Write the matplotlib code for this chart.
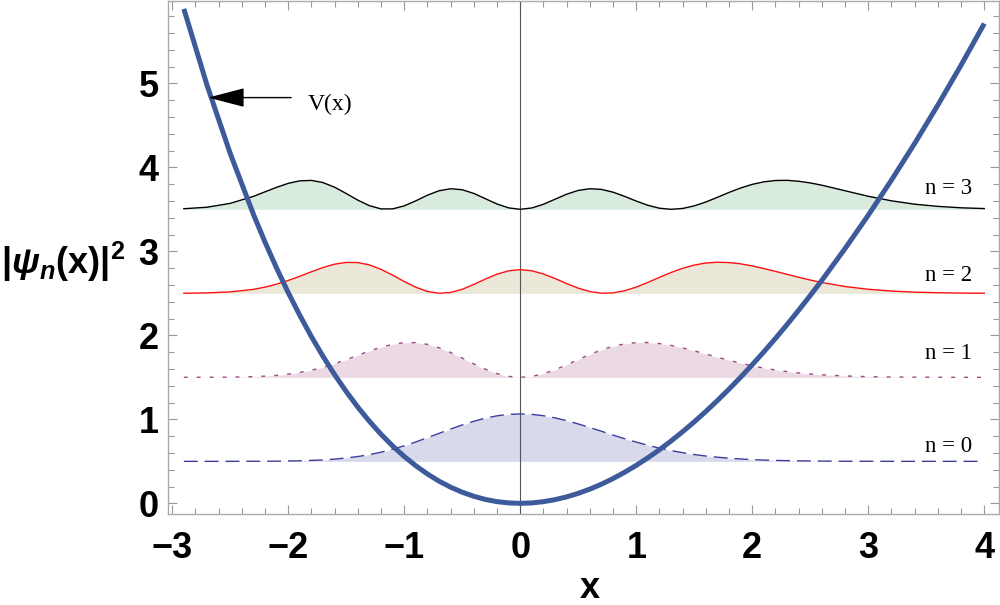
import matplotlib
matplotlib.use('Agg')
import matplotlib.pyplot as plt
from matplotlib.ticker import MultipleLocator
import numpy as np

# values
x_grid = [-2.9, -2.7, -2.5, -2.3, -2.2, -2.1, -2.0, -1.9, -1.8, -1.7, -1.6, -1.5,
          -1.4, -1.3, -1.2, -1.1, -1.0, -0.9, -0.8, -0.7, -0.6, -0.5, -0.4, -0.3,
          -0.2, -0.1, 0.0, 0.1, 0.2, 0.3, 0.4, 0.5, 0.6, 0.7, 0.8, 0.9, 1.0, 1.1,
          1.2, 1.3, 1.4, 1.5, 1.6, 1.7, 1.8, 1.9, 2.0, 2.1, 2.2, 2.3, 2.4, 2.5,
          2.6, 2.8, 3.0, 3.2, 3.4, 3.6, 3.8, 4.0]

potential = [5.886, 4.977, 4.164, 3.440, 3.109, 2.799, 2.508, 2.237, 1.984, 1.749,
             1.531, 1.330, 1.145, 0.976, 0.822, 0.683, 0.558, 0.447, 0.349, 0.264,
             0.192, 0.132, 0.084, 0.046, 0.020, 0.005, 0.000, 0.005, 0.020, 0.044,
             0.077, 0.119, 0.169, 0.228, 0.295, 0.370, 0.452, 0.542, 0.638, 0.742,
             0.853, 0.970, 1.094, 1.224, 1.360, 1.502, 1.650, 1.804, 1.963, 2.128,
             2.299, 2.474, 2.655, 3.033, 3.430, 3.848, 4.284, 4.741, 5.216, 5.711]

psi0_sq = [0.000, 0.000, 0.000, 0.001, 0.001, 0.002, 0.004, 0.006, 0.011, 0.017,
           0.026, 0.040, 0.057, 0.080, 0.109, 0.144, 0.185, 0.231, 0.281, 0.333,
           0.384, 0.433, 0.477, 0.514, 0.542, 0.559, 0.564, 0.559, 0.543, 0.517,
           0.484, 0.445, 0.402, 0.358, 0.313, 0.269, 0.229, 0.191, 0.157, 0.128,
           0.103, 0.081, 0.063, 0.049, 0.037, 0.028, 0.021, 0.015, 0.011, 0.008,
           0.006, 0.004, 0.003, 0.001, 0.001, 0.000, 0.000, 0.000, 0.000, 0.000]

psi1_sq = [0.000, 0.001, 0.002, 0.008, 0.014, 0.023, 0.038, 0.058, 0.085, 0.119,
           0.162, 0.210, 0.262, 0.313, 0.358, 0.393, 0.413, 0.413, 0.392, 0.352,
           0.295, 0.229, 0.159, 0.096, 0.044, 0.011, 0.000, 0.011, 0.043, 0.090,
           0.149, 0.211, 0.272, 0.326, 0.369, 0.398, 0.413, 0.414, 0.402, 0.380,
           0.350, 0.315, 0.277, 0.239, 0.202, 0.168, 0.137, 0.110, 0.087, 0.068,
           0.052, 0.040, 0.030, 0.016, 0.008, 0.004, 0.002, 0.001, 0.000, 0.000]

psi2_sq = [0.001, 0.005, 0.017, 0.047, 0.074, 0.109, 0.153, 0.203, 0.257, 0.307,
           0.347, 0.368, 0.366, 0.338, 0.285, 0.216, 0.140, 0.072, 0.022, 0.001,
           0.010, 0.048, 0.106, 0.170, 0.228, 0.268, 0.282, 0.268, 0.230, 0.176,
           0.116, 0.061, 0.021, 0.001, 0.005, 0.031, 0.074, 0.130, 0.190, 0.248,
           0.298, 0.336, 0.361, 0.370, 0.366, 0.351, 0.326, 0.295, 0.261, 0.226,
           0.191, 0.158, 0.129, 0.081, 0.048, 0.027, 0.014, 0.007, 0.003, 0.001]

psi3_sq = [0.007, 0.025, 0.071, 0.154, 0.208, 0.262, 0.309, 0.339, 0.344, 0.318,
           0.263, 0.188, 0.109, 0.043, 0.005, 0.005, 0.041, 0.101, 0.168, 0.221,
           0.245, 0.233, 0.189, 0.126, 0.063, 0.017, 0.000, 0.016, 0.060, 0.120,
           0.180, 0.225, 0.245, 0.237, 0.204, 0.154, 0.098, 0.048, 0.013, 0.000,
           0.010, 0.041, 0.087, 0.143, 0.201, 0.254, 0.297, 0.327, 0.343, 0.345,
           0.334, 0.314, 0.287, 0.221, 0.155, 0.101, 0.061, 0.035, 0.018, 0.009]

energies = [0.5, 1.5, 2.5, 3.5]
level_labels = ['n = 0', 'n = 1', 'n = 2', 'n = 3']

plt.rcParams['font.family'] = 'Liberation Sans'
plt.rcParams['font.weight'] = 'bold'
plt.rcParams['mathtext.fontset'] = 'custom'
plt.rcParams['mathtext.rm'] = 'Liberation Sans:bold'
plt.rcParams['mathtext.bf'] = 'Liberation Sans:bold'
plt.rcParams['mathtext.it'] = 'Liberation Sans:italic:bold'

fill_colors = ['#d9d9ec', '#ebd9e4', '#ebe8d9', '#d9ebdd']
line_colors = ['#3c3c9c', '#9b4a86', '#ff1010', '#000000']
line_styles = [(0, (10, 5)), (0, (2.8, 6.5)), '-', '-']
label_base = [0.614, 1.714, 2.65, 3.68]

fig = plt.figure(figsize=(10, 6.05), dpi=100)
ax = fig.add_axes([0.1683, 0.1504, 0.8307, 0.8484])

x = np.array(x_grid)
dens = [psi0_sq, psi1_sq, psi2_sq, psi3_sq]
for n in range(4):
    level = energies[n]
    y = level + np.array(dens[n])
    ax.fill_between(x, level, y, color=fill_colors[n], lw=0, zorder=1)
    ax.plot(x, y, color=line_colors[n], lw=1.0, linestyle=line_styles[n], zorder=3)
    ax.text(3.69, label_base[n], level_labels[n], family='Liberation Serif',
            fontweight='normal', fontsize=16.5, ha='center', va='baseline')

ax.axvline(0, color='#555555', lw=0.8, zorder=2)
ax.plot(x, potential, color='#3d5a9b', lw=3.6, solid_capstyle='butt', zorder=4)

ax.annotate('', xy=(-2.69, 4.83), xytext=(-1.975, 4.83),
            arrowprops=dict(arrowstyle='-|>,head_length=2.3,head_width=0.6',
                            color='black', lw=1.0, shrinkA=0, shrinkB=0,
                            mutation_scale=10), zorder=5)
ax.text(-1.83, 4.682, 'V(x)', family='Liberation Serif', fontweight='normal',
        fontsize=17, ha='left', va='baseline')

ax.set_xlim(-3.034, 4.127)
ax.set_ylim(-0.127, 5.983)
ax.set_xticks(range(-3, 5))
ax.set_yticks(range(0, 6))
ax.xaxis.set_minor_locator(MultipleLocator(0.2))
ax.yaxis.set_minor_locator(MultipleLocator(0.2))
ax.tick_params(which='both', direction='in', top=True, right=True,
               color='#999999', width=0.8)
ax.tick_params(which='major', length=6.5)
ax.tick_params(which='minor', length=4)
ax.tick_params(axis='x', labelsize=26, pad=12.5)
ax.tick_params(axis='y', labelsize=26, pad=7)
for s in ax.spines.values():
    s.set_color('#aaaaaa')
    s.set_linewidth(1.0)

ax.set_xlabel('x', fontsize=26, fontweight='bold')
ax.xaxis.set_label_coords(0.5076, -0.164)
ax.xaxis.label.set_va('baseline')

ax.set_ylabel(r'$|\psi_{n}(\mathrm{x})|^{2}$', fontsize=26, rotation=0,
              ha='left', va='center')
ax.yaxis.set_label_coords(-0.2014, 0.4909)

fig.savefig('out.png', dpi=100)
